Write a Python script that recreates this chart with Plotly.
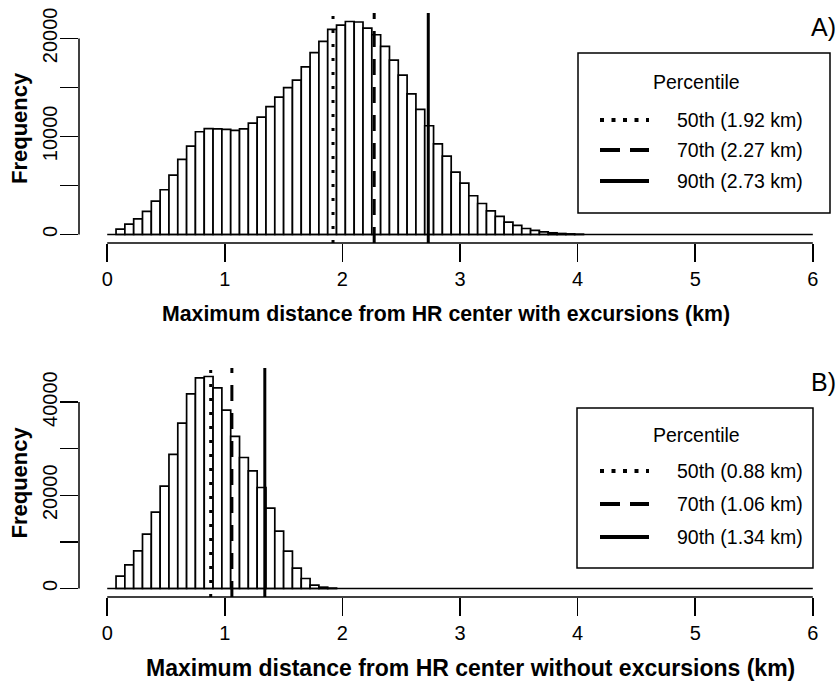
import plotly.graph_objects as go

# ---------------- data ----------------
bin_width_km = 0.075
# left edges of non-empty bins (km)
bin_left_with = [0.075, 0.15, 0.225, 0.3, 0.375, 0.45, 0.525, 0.6, 0.675, 0.75,
                 0.825, 0.9, 0.975, 1.05, 1.125, 1.2, 1.275, 1.35, 1.425, 1.5,
                 1.575, 1.65, 1.725, 1.8, 1.875, 1.95, 2.025, 2.1, 2.175, 2.25,
                 2.325, 2.4, 2.475, 2.55, 2.625, 2.7, 2.775, 2.85, 2.925, 3.0,
                 3.075, 3.15, 3.225, 3.3, 3.375, 3.45, 3.525, 3.6, 3.675, 3.75,
                 3.825, 3.9, 3.975]
counts_with = [540, 1050, 1600, 2350, 3400, 4560, 6050, 7650, 9010, 10480,
               10800, 10780, 10710, 10610, 10780, 11360, 11970, 13030, 14010, 14970,
               15750, 17100, 18540, 19690, 20920, 21350, 21720, 21670, 21050, 20370,
               19180, 17790, 16260, 14350, 12760, 11090, 9250, 7990, 6360, 5240,
               3950, 3160, 2410, 1840, 1260, 920, 610, 410, 270, 170,
               100, 60, 30]

bin_left_without = [0.075, 0.15, 0.225, 0.3, 0.375, 0.45, 0.525, 0.6, 0.675, 0.75,
                    0.825, 0.9, 0.975, 1.05, 1.125, 1.2, 1.275, 1.35, 1.425, 1.5,
                    1.575, 1.65, 1.725, 1.8, 1.875]
counts_without = [2650, 5080, 8080, 11660, 16380, 21960, 28760, 35480, 41770, 45210,
                  45490, 43060, 38270, 32620, 28110, 25250, 21670, 17240, 12300, 8010,
                  4360, 2150, 720, 290, 90]

percentile_names = ["50th", "70th", "90th"]
percentiles_with = [1.92, 2.27, 2.73]
percentiles_without = [0.88, 1.06, 1.34]

x_ticks = [0, 1, 2, 3, 4, 5, 6]
y_ticks_with = [0, 5000, 10000, 15000, 20000]
y_ticklabels_with = ["0", "", "10000", "", "20000"]
y_ticks_without = [0, 10000, 20000, 30000, 40000]
y_ticklabels_without = ["0", "", "20000", "", "40000"]

xlab_with = "Maximum distance from HR center with excursions (km)"
xlab_without = "Maximum distance from HR center without excursions (km)"
ylab = "Frequency"
panel_labels = ["A)", "B)"]
legend_title = "Percentile"

# ---------------- layout helpers ----------------
W, H = 838, 683
FONT = "Liberation Sans, Arial, sans-serif"


def fx(px):
    return px / W


def fy(py):
    return 1 - py / H


fig = go.Figure()

x_lo, x_hi = -0.24, -0.24 + (W - 79) / 117.6
panels = [
    dict(left=bin_left_with, counts=counts_with, pct=percentiles_with,
         yticks=y_ticks_with, yticktext=y_ticklabels_with, top=13, bottom=243,
         xlab=xlab_with, xlab_x=446, xlab_size=21.3,
         label=panel_labels[0], xa="x", ya="y",
         leg=dict(l=578, r=830, t=53, b=213, title_y=82, rows=[120, 150, 181])),
    dict(left=bin_left_without, counts=counts_without, pct=percentiles_without,
         yticks=y_ticks_without, yticktext=y_ticklabels_without, top=368, bottom=597,
         xlab=xlab_without, xlab_x=471, xlab_size=23,
         label=panel_labels[1], xa="x2", ya="y2",
         leg=dict(l=577, r=813, t=408, b=568, title_y=435, rows=[471, 504, 537])),
]

dash_plot = ["3px,11px", "16px,12px", "solid"]
dash_leg = ["4px,7.5px", "20px,10px", "solid"]

annotations = []
shapes = []
for i, p in enumerate(panels):
    centers = [l + bin_width_km / 2 for l in p["left"]]
    fig.add_trace(go.Bar(
        x=centers, y=p["counts"], width=bin_width_km,
        marker=dict(color="white", line=dict(color="black", width=1.7)),
        xaxis=p["xa"], yaxis=p["ya"], showlegend=False, hoverinfo="skip"))

    ymax = max(p["counts"])
    axx = "xaxis" if i == 0 else "xaxis2"
    axy = "yaxis" if i == 0 else "yaxis2"
    fig.layout[axx] = dict(
        domain=[fx(79), 1.0], range=[x_lo, x_hi], anchor=p["ya"], automargin=False,
        tickvals=x_ticks, ticks="outside", ticklen=18, tickwidth=1.5,
        tickcolor="black", showline=False, showgrid=False, zeroline=False,
        tickfont=dict(family=FONT, size=20, color="black"), fixedrange=True)
    fig.layout[axy] = dict(
        domain=[fy(p["bottom"]), fy(p["top"])], automargin=False,
        range=[-0.04 * ymax, 1.04 * ymax], anchor=p["xa"],
        tickvals=p["yticks"], ticktext=p["yticktext"], tickangle=-90,
        ticklabelstandoff=-5,
        ticks="outside", ticklen=18, tickwidth=1.5, tickcolor="black",
        showline=False, showgrid=False, zeroline=False,
        tickfont=dict(family=FONT, size=20, color="black"), fixedrange=True)

    xr, yr = p["xa"], p["ya"]
    # baseline (empty bins) and axis lines
    shapes.append(dict(type="line", xref=xr, yref=yr, x0=0, x1=6, y0=0, y1=0,
                       line=dict(color="black", width=1.7)))
    shapes.append(dict(type="line", xref=xr, yref=yr + " domain", x0=0, x1=6, y0=0, y1=0,
                       line=dict(color="black", width=1.5)))
    shapes.append(dict(type="line", xref=xr + " domain", yref=yr, x0=0, x1=0,
                       y0=p["yticks"][0], y1=p["yticks"][-1],
                       line=dict(color="black", width=1.5)))
    # percentile lines
    for j, v in enumerate(p["pct"]):
        shapes.append(dict(type="line", xref=xr, yref=yr + " domain", x0=v, x1=v,
                           y0=0, y1=1, line=dict(color="black", width=3, dash=dash_plot[j])))

    # axis titles and panel label
    annotations.append(dict(text="<b>%s</b>" % p["xlab"], xref="paper", yref="paper",
                            x=fx(p["xlab_x"]), y=fy(p["bottom"] + 71), showarrow=False,
                            xanchor="center", yanchor="middle",
                            font=dict(family=FONT, size=p["xlab_size"], color="black")))
    annotations.append(dict(text="<b>%s</b>" % ylab, xref="paper", yref="paper",
                            x=fx(19), y=fy((p["top"] + p["bottom"]) / 2), showarrow=False,
                            textangle=-90, xanchor="center", yanchor="middle",
                            font=dict(family=FONT, size=22, color="black")))
    annotations.append(dict(text=p["label"], xref="paper", yref="paper",
                            x=fx(838), y=fy(p["top"] + 14), showarrow=False,
                            xanchor="right", yanchor="middle",
                            font=dict(family=FONT, size=25, color="black")))

    # legend (box, title, samples, labels)
    lg = p["leg"]
    shapes.append(dict(type="rect", xref="paper", yref="paper",
                       x0=fx(lg["l"]), x1=fx(lg["r"]), y0=fy(lg["b"]), y1=fy(lg["t"]),
                       line=dict(color="black", width=1.5), fillcolor="white"))
    annotations.append(dict(text=legend_title, xref="paper", yref="paper",
                            x=fx(696), y=fy(lg["title_y"]), showarrow=False,
                            xanchor="center", yanchor="middle",
                            font=dict(family=FONT, size=19.5, color="black")))
    for j, (name, v) in enumerate(zip(percentile_names, p["pct"])):
        ry = lg["rows"][j]
        shapes.append(dict(type="line", xref="paper", yref="paper",
                           x0=fx(600), x1=fx(649), y0=fy(ry), y1=fy(ry),
                           line=dict(color="black", width=4, dash=dash_leg[j])))
        annotations.append(dict(text="%s (%.2f km)" % (name, v), xref="paper", yref="paper",
                                x=fx(675), y=fy(ry), showarrow=False,
                                xanchor="left", yanchor="middle",
                                font=dict(family=FONT, size=19.5, color="black")))

fig.update_layout(
    width=W, height=H, autosize=False,
    margin=dict(l=0, r=0, t=0, b=0, autoexpand=False),
    paper_bgcolor="white", plot_bgcolor="white",
    bargap=0, showlegend=False,
    shapes=shapes, annotations=annotations,
)

fig.write_html(
    "out.html",
    config={"displayModeBar": False, "staticPlot": True},
    post_script="document.body.style.margin='0';document.body.style.overflow='hidden';",
)
